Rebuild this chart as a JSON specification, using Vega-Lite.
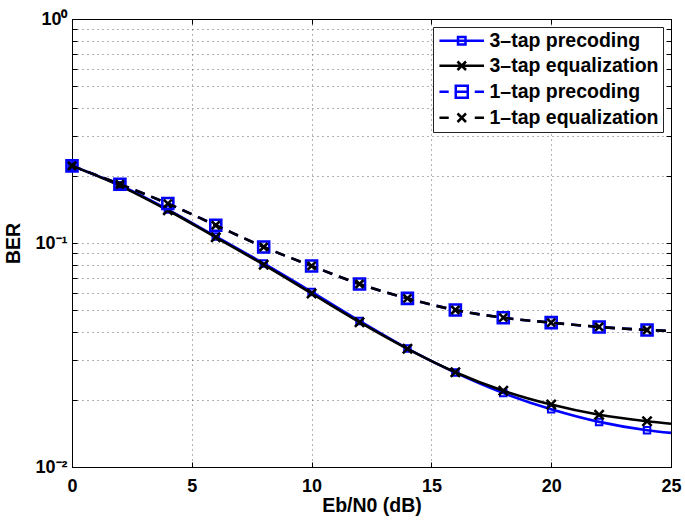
{
  "$schema": "https://vega.github.io/schema/vega-lite/v6.json",
  "width": 599,
  "height": 448,
  "autosize": {"type": "none"},
  "padding": {"left": 72, "top": 19, "right": 14, "bottom": 55},
  "background": "white",
  "config": {
    "font": "Liberation Sans",
    "view": {"stroke": "black", "strokeWidth": 1},
    "axis": {
      "labelFont": "Liberation Sans",
      "labelFontWeight": "bold",
      "labelFontSize": 18,
      "labelColor": "black",
      "titleFont": "Liberation Sans",
      "titleFontWeight": "bold",
      "titleFontSize": 19.5,
      "titleColor": "black",
      "domainColor": "black",
      "tickColor": "black",
      "tickSize": -5,
      "gridColor": "#333333",
      "gridOpacity": 0.75,
      "gridDash": [1, 4],
      "gridWidth": 1
    }
  },
  "datasets": {
    "ber": [
      {"snr": 0, "series": "3–tap precoding", "ber": 0.221},
      {"snr": 2, "series": "3–tap precoding", "ber": 0.181},
      {"snr": 4, "series": "3–tap precoding", "ber": 0.141},
      {"snr": 6, "series": "3–tap precoding", "ber": 0.107},
      {"snr": 8, "series": "3–tap precoding", "ber": 0.081},
      {"snr": 10, "series": "3–tap precoding", "ber": 0.0605},
      {"snr": 12, "series": "3–tap precoding", "ber": 0.0449},
      {"snr": 14, "series": "3–tap precoding", "ber": 0.0338},
      {"snr": 16, "series": "3–tap precoding", "ber": 0.0264},
      {"snr": 18, "series": "3–tap precoding", "ber": 0.0214},
      {"snr": 20, "series": "3–tap precoding", "ber": 0.0181},
      {"snr": 22, "series": "3–tap precoding", "ber": 0.0159},
      {"snr": 24, "series": "3–tap precoding", "ber": 0.0146},
      {"snr": 25, "series": "3–tap precoding", "ber": 0.0142},
      {"snr": 0, "series": "3–tap equalization", "ber": 0.221},
      {"snr": 2, "series": "3–tap equalization", "ber": 0.180},
      {"snr": 4, "series": "3–tap equalization", "ber": 0.140},
      {"snr": 6, "series": "3–tap equalization", "ber": 0.106},
      {"snr": 8, "series": "3–tap equalization", "ber": 0.080},
      {"snr": 10, "series": "3–tap equalization", "ber": 0.0595},
      {"snr": 12, "series": "3–tap equalization", "ber": 0.0443},
      {"snr": 14, "series": "3–tap equalization", "ber": 0.0337},
      {"snr": 16, "series": "3–tap equalization", "ber": 0.0265},
      {"snr": 18, "series": "3–tap equalization", "ber": 0.0219},
      {"snr": 20, "series": "3–tap equalization", "ber": 0.0190},
      {"snr": 22, "series": "3–tap equalization", "ber": 0.0171},
      {"snr": 24, "series": "3–tap equalization", "ber": 0.0160},
      {"snr": 25, "series": "3–tap equalization", "ber": 0.0156},
      {"snr": 0, "series": "1–tap precoding", "ber": 0.221},
      {"snr": 2, "series": "1–tap precoding", "ber": 0.183},
      {"snr": 4, "series": "1–tap precoding", "ber": 0.150},
      {"snr": 6, "series": "1–tap precoding", "ber": 0.120},
      {"snr": 8, "series": "1–tap precoding", "ber": 0.096},
      {"snr": 10, "series": "1–tap precoding", "ber": 0.079},
      {"snr": 12, "series": "1–tap precoding", "ber": 0.0656},
      {"snr": 14, "series": "1–tap precoding", "ber": 0.0566},
      {"snr": 16, "series": "1–tap precoding", "ber": 0.0502},
      {"snr": 18, "series": "1–tap precoding", "ber": 0.0464},
      {"snr": 20, "series": "1–tap precoding", "ber": 0.0441},
      {"snr": 22, "series": "1–tap precoding", "ber": 0.0422},
      {"snr": 24, "series": "1–tap precoding", "ber": 0.0409},
      {"snr": 25, "series": "1–tap precoding", "ber": 0.0405},
      {"snr": 0, "series": "1–tap equalization", "ber": 0.221},
      {"snr": 2, "series": "1–tap equalization", "ber": 0.183},
      {"snr": 4, "series": "1–tap equalization", "ber": 0.150},
      {"snr": 6, "series": "1–tap equalization", "ber": 0.120},
      {"snr": 8, "series": "1–tap equalization", "ber": 0.096},
      {"snr": 10, "series": "1–tap equalization", "ber": 0.079},
      {"snr": 12, "series": "1–tap equalization", "ber": 0.0656},
      {"snr": 14, "series": "1–tap equalization", "ber": 0.0566},
      {"snr": 16, "series": "1–tap equalization", "ber": 0.0502},
      {"snr": 18, "series": "1–tap equalization", "ber": 0.0464},
      {"snr": 20, "series": "1–tap equalization", "ber": 0.0441},
      {"snr": 22, "series": "1–tap equalization", "ber": 0.0422},
      {"snr": 24, "series": "1–tap equalization", "ber": 0.0409},
      {"snr": 25, "series": "1–tap equalization", "ber": 0.0405}
    ]
  },
  "data": {"name": "ber"},
  "resolve": {"axis": {"x": "independent", "y": "independent"}},
  "layer": [
    {
      "transform": [{"filter": "datum.series == '3–tap precoding'"}],
      "mark": {"type": "line", "stroke": "#0000ff", "strokeWidth": 2.6, "interpolate": "monotone", "strokeJoin": "round"},
      "encoding": {
        "x": {
          "field": "snr", "type": "quantitative",
          "scale": {"domain": [0, 25], "nice": false, "zero": false},
          "axis": {
            "orient": "bottom", "title": "Eb/N0 (dB)", "values": [0, 5, 10, 15, 20, 25],
            "grid": true, "labelFlush": false, "labelPadding": 15, "labelOverlap": false,
            "titleX": 299.5, "titleY": 38, "titleBaseline": "middle"
          }
        },
        "y": {
          "field": "ber", "type": "quantitative",
          "scale": {"type": "log", "domain": [0.01, 1], "nice": false},
          "axis": {
            "orient": "left", "title": "BER", "grid": true,
            "values": [0.01, 0.02, 0.03, 0.04, 0.05, 0.06, 0.07, 0.08, 0.09, 0.1, 0.2, 0.3, 0.4, 0.5, 0.6, 0.7, 0.8, 0.9, 1],
            "labelExpr": "datum.value == 1 ? '10⁰' : (abs(datum.value - 0.1) < 1e-9 ? '10⁻¹' : (abs(datum.value - 0.01) < 1e-9 ? '10⁻²' : ''))",
            "labelOverlap": false, "labelFlush": false, "labelPadding": 10, "labelBaseline": "middle",
            "titleX": -59, "titleY": 224, "titleBaseline": "middle", "titleAngle": -90
          }
        }
      }
    },
    {
      "transform": [{"filter": "datum.series == '3–tap precoding' && datum.snr <= 24"}],
      "mark": {"type": "point", "shape": "square", "size": 42, "filled": false, "stroke": "#0000ff", "strokeWidth": 2, "opacity": 1},
      "encoding": {
        "x": {"field": "snr", "type": "quantitative",
          "axis": {"orient": "top", "labels": false, "grid": false, "title": null, "values": [0, 5, 10, 15, 20, 25]}},
        "y": {"field": "ber", "type": "quantitative",
          "axis": {"orient": "right", "labels": false, "grid": false, "title": null,
            "values": [0.01, 0.02, 0.03, 0.04, 0.05, 0.06, 0.07, 0.08, 0.09, 0.1, 0.2, 0.3, 0.4, 0.5, 0.6, 0.7, 0.8, 0.9, 1]}}
      }
    },
    {
      "transform": [{"filter": "datum.series == '3–tap equalization'"}],
      "mark": {"type": "line", "stroke": "black", "strokeWidth": 2.6, "interpolate": "monotone", "strokeJoin": "round"},
      "encoding": {
        "x": {"field": "snr", "type": "quantitative", "axis": null},
        "y": {"field": "ber", "type": "quantitative", "axis": null}
      }
    },
    {
      "transform": [{"filter": "datum.series == '3–tap equalization' && datum.snr <= 24"}],
      "mark": {"type": "point", "shape": "M-1,-1L1,1M-1,1L1,-1", "size": 85, "filled": false, "stroke": "black", "strokeWidth": 2.6, "opacity": 1},
      "encoding": {
        "x": {"field": "snr", "type": "quantitative", "axis": null},
        "y": {"field": "ber", "type": "quantitative", "axis": null}
      }
    },
    {
      "transform": [{"filter": "datum.series == '1–tap precoding'"}],
      "mark": {"type": "line", "stroke": "#0000ff", "strokeWidth": 2.6, "strokeDash": [10, 7], "interpolate": "monotone"},
      "encoding": {
        "x": {"field": "snr", "type": "quantitative", "axis": null},
        "y": {"field": "ber", "type": "quantitative", "axis": null}
      }
    },
    {
      "transform": [{"filter": "datum.series == '1–tap precoding' && datum.snr <= 24"}],
      "mark": {"type": "point", "shape": "square", "size": 121, "filled": false, "stroke": "#0000ff", "strokeWidth": 2.6, "opacity": 1},
      "encoding": {
        "x": {"field": "snr", "type": "quantitative", "axis": null},
        "y": {"field": "ber", "type": "quantitative", "axis": null}
      }
    },
    {
      "transform": [{"filter": "datum.series == '1–tap equalization'"}],
      "mark": {"type": "line", "stroke": "black", "strokeWidth": 2.6, "strokeDash": [10, 7], "interpolate": "monotone"},
      "encoding": {
        "x": {"field": "snr", "type": "quantitative", "axis": null},
        "y": {"field": "ber", "type": "quantitative", "axis": null}
      }
    },
    {
      "transform": [{"filter": "datum.series == '1–tap equalization' && datum.snr <= 24"}],
      "mark": {"type": "point", "shape": "M-1,-1L1,1M-1,1L1,-1", "size": 64, "filled": false, "stroke": "black", "strokeWidth": 2.6, "opacity": 1},
      "encoding": {
        "x": {"field": "snr", "type": "quantitative", "axis": null},
        "y": {"field": "ber", "type": "quantitative", "axis": null}
      }
    },
    {
      "transform": [{"filter": "false"}],
      "mark": {"type": "point", "filled": false, "size": 100, "strokeWidth": 2.5, "opacity": 1},
      "encoding": {
        "color": {
          "field": "series", "type": "nominal",
          "scale": {"domain": ["3–tap precoding", "3–tap equalization", "1–tap precoding", "1–tap equalization"], "range": ["#0000ff", "black", "#0000ff", "black"]},
          "legend": {
            "title": null, "orient": "top-right", "offset": 8, "padding": 4,
            "fillColor": "white", "strokeColor": "#222222",
            "labelFont": "Liberation Sans", "labelFontSize": 19.5, "labelFontWeight": "bold", "labelColor": "black",
            "labelLimit": 400, "symbolSize": 100, "symbolStrokeWidth": 2.5, "symbolFillColor": "transparent",
            "symbolOffset": 15, "labelOffset": 18, "rowPadding": 4
          }
        },
        "shape": {
          "field": "series", "type": "nominal",
          "scale": {
            "domain": ["3–tap precoding", "3–tap equalization", "1–tap precoding", "1–tap equalization"],
            "range": [
              "M-4.46,0H4.46M-0.75,-0.75H0.75V0.75H-0.75Z",
              "M-4.46,0H4.46M-0.85,-0.85L0.85,0.85M-0.85,0.85L0.85,-0.85",
              "M-4.46,0H-2.6M2.6,0H4.46M-1.2,0H1.2M-1.2,-1.2H1.2V1.2H-1.2Z",
              "M-4.46,0H-2.6M2.6,0H4.46M-0.85,-0.85L0.85,0.85M-0.85,0.85L0.85,-0.85"
            ]
          }
        }
      }
    }
  ]
}
